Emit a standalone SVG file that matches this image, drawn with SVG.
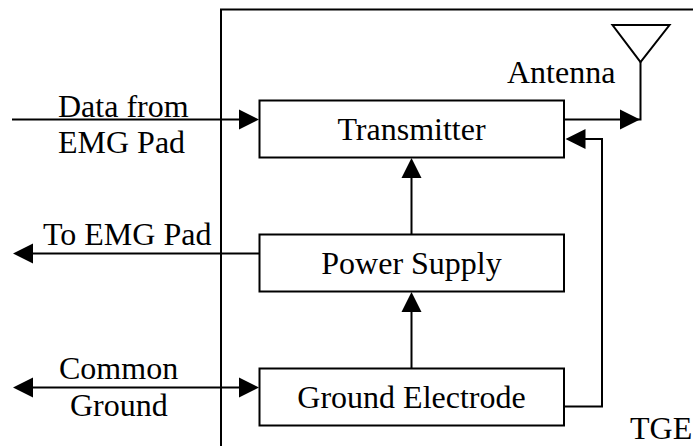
<svg xmlns="http://www.w3.org/2000/svg" width="693" height="446" viewBox="0 0 693 446">
<style>
.l{fill:none;stroke:#000;stroke-width:2}
.b{fill:#fff;stroke:#000;stroke-width:2}
.h{fill:#000;stroke:none}
text{font-family:"Liberation Serif","Times New Roman",serif;font-size:32px;fill:#000}
.m{text-anchor:middle}
</style>
<rect width="693" height="446" fill="#fff"/>
<g id="enclosure"><path class="l" d="M221 446V9.500H693"/><text x="630" y="439">TGE</text></g>
<g id="connectors">
<path class="l" d="M12 119.500H240M32 253.500H259M32 387.500H240M564 119.500H640.500V62M583 139H602V406.500H564M411.500 234V178M411.500 368V312"/>
<path class="h" d="M259 119.500L239 109.500V129.500ZM13 253.500L33 243.500V263.500ZM13 387.500L33 377.500V397.500ZM259 387.500L239 377.500V397.500ZM640 119.500L620 109.500V129.500ZM565.500 139L585.500 129V149ZM411.500 158L401.500 178H421.500ZM411.500 292L401.500 312H421.500Z"/>
</g>
<g id="antenna"><path class="l" d="M612.500 25H669.500L640.500 62Z"/><text x="507" y="83">Antenna</text></g>
<g id="transmitter"><rect class="b" x="259.500" y="100.500" width="304.500" height="57"/><text class="m" x="411.500" y="140">Transmitter</text></g>
<g id="power-supply"><rect class="b" x="259.500" y="234.500" width="304.500" height="57"/><text class="m" x="411.500" y="274">Power Supply</text></g>
<g id="ground-electrode"><rect class="b" x="259.500" y="368.500" width="304.500" height="57"/><text class="m" x="411.500" y="408">Ground Electrode</text></g>
<g id="labels">
<text x="58" y="117">Data from</text>
<text x="58" y="153">EMG Pad</text>
<text x="43" y="245">To EMG Pad</text>
<text x="59" y="379">Common</text>
<text x="70" y="416">Ground</text>
</g>
</svg>
